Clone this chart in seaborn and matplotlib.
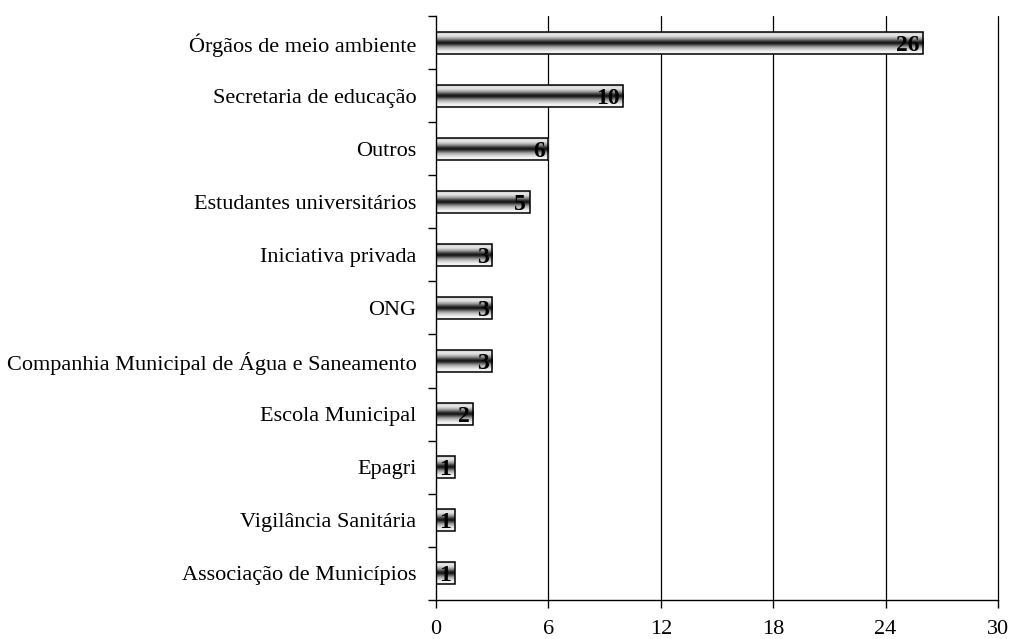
import numpy as np
import pandas as pd
import matplotlib
matplotlib.use('Agg')
import matplotlib.pyplot as plt
import seaborn as sns

# Dados
categorias = ['Órgãos de meio ambiente', 'Secretaria de educação', 'Outros',
              'Estudantes universitários', 'Iniciativa privada', 'ONG',
              'Companhia Municipal de Água e Saneamento', 'Escola Municipal',
              'Epagri', 'Vigilância Sanitária', 'Associação de Municípios']
valores = [26, 10, 6, 5, 3, 3, 3, 2, 1, 1, 1]
xticks = [0, 6, 12, 18, 24, 30]

df = pd.DataFrame({'Categoria': categorias, 'Valor': valores})

sns.set_style('white')
plt.rcParams['font.family'] = ['Liberation Serif', 'DejaVu Serif']
plt.rcParams['text.color'] = 'black'
plt.rcParams['xtick.color'] = 'black'
plt.rcParams['ytick.color'] = 'black'

fig = plt.figure(figsize=(10.13, 6.39), dpi=100)
ax = fig.add_axes([0.4304, 0.0618, 0.5548, 0.9124])

sns.barplot(data=df, x='Valor', y='Categoria', orient='h', color='white',
            width=0.41, edgecolor='black', linewidth=1.1, ax=ax, zorder=3)

# gradiente horizontal (cilindro) em cada barra
perfil = np.array([0.75, 0.9, 0.88, 0.72, 0.5, 0.22, 0.06, 0.3, 0.58, 0.76, 0.88, 0.97, 0.92])
grad = np.interp(np.linspace(0, len(perfil) - 1, 60), np.arange(len(perfil)), perfil)
grad = grad.reshape(-1, 1)
for p in ax.patches:
    x0, y0 = p.get_x(), p.get_y()
    w, h = p.get_width(), p.get_height()
    im = ax.imshow(grad, cmap='gray', vmin=0, vmax=1, aspect='auto',
                   extent=[x0, x0 + w, y0 + h, y0], zorder=2.5,
                   interpolation='bilinear')
    im.set_clip_path(p)
    p.set_facecolor('none')

ax.set_xlim(0, 30)
ax.set_ylim(len(categorias) - 0.5, -0.5)
ax.set_xticks(xticks)
ax.set_xlabel('')
ax.set_ylabel('')

# rótulos de valores
for i, v in enumerate(valores):
    ax.text(v - 0.18, i + 0.04, str(v), ha='right', va='center', fontsize=17,
            fontweight='bold', color='black', zorder=5)

# grades e eixos
for x in xticks[1:]:
    ax.axvline(x, color='black', lw=0.9, zorder=1, clip_on=False)
for s in ['top', 'right']:
    ax.spines[s].set_visible(False)
for s in ['left', 'bottom']:
    ax.spines[s].set_color('black')
    ax.spines[s].set_linewidth(1.0)

ax.set_yticks(np.arange(-0.5, len(categorias), 1.0), minor=True)
ax.tick_params(axis='y', which='major', length=0, labelsize=16, pad=14)
ax.tick_params(axis='y', which='minor', length=6, width=1, color='black', direction='out', left=True)
ax.tick_params(axis='x', which='major', length=6, width=1, color='black', direction='out',
               bottom=True, labelsize=16, pad=9)

fig.savefig('out.png', dpi=100)
